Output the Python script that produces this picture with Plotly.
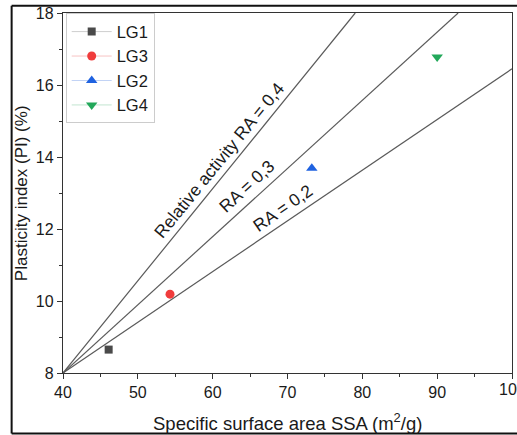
import plotly.graph_objects as go

# Data
series_names = ["LG1", "LG3", "LG2", "LG4"]
ssa_values = [46.1, 54.3, 73.25, 90.0]
pi_values = [8.65, 10.19, 13.69, 16.78]
symbols = ["square", "circle", "triangle-up", "triangle-down"]
marker_sizes = [8, 9, 10, 10]
colors = ["#4a4a4a", "#f03c3c", "#1f62e0", "#22a85a"]
legend_line_colors = ["#cfcfcf", "#f7c4c4", "#c2d3f5", "#c2e6d0"]

ra_labels = ["Relative activity RA = 0,4", "RA = 0,3", "RA = 0,2"]
ra_start_x = [40, 40, 40]
ra_start_y = [8, 8, 8]
ra_end_x = [79.05, 92.8, 100]
ra_end_y = [18, 18, 16.45]
ra_label_x = [61.3, 64.6, 69.4]
ra_label_y = [13.83, 13.19, 12.58]
ra_label_angle = [-50.8, -42.5, -35]
ra_label_xshift = [-3, 0, 0]
ra_label_yshift = [3, 0, 0]

x_ticks = [40, 50, 60, 70, 80, 90, 100]
y_ticks = [8, 10, 12, 14, 16, 18]

x_title = "Specific surface area SSA (m<sup>2</sup>/g)"
y_title = "Plasticity index (PI) (%)"

fig = go.Figure()

for i in range(3):
    fig.add_trace(go.Scatter(
        x=[ra_start_x[i], ra_end_x[i]], y=[ra_start_y[i], ra_end_y[i]],
        mode="lines", line=dict(color="#5a5a5a", width=1.2),
        showlegend=False, hoverinfo="skip"))

for i, name in enumerate(series_names):
    fig.add_trace(go.Scatter(
        x=[ssa_values[i]], y=[pi_values[i]], name=name,
        mode="lines+markers",
        line=dict(color=legend_line_colors[i], width=1),
        marker=dict(symbol=symbols[i], color=colors[i], size=marker_sizes[i],
                    line=dict(width=0))))

for i in range(3):
    fig.add_annotation(x=ra_label_x[i], y=ra_label_y[i], text=ra_labels[i],
                       textangle=ra_label_angle[i], showarrow=False,
                       xanchor="center", yanchor="middle",
                       xshift=ra_label_xshift[i], yshift=ra_label_yshift[i],
                       font=dict(size=17.5, color="#1a1a1a"))

# Last x tick label, cut by the page edge as in the reference
fig.add_annotation(x=x_ticks[-1], xref="x", y=0, yref="paper", yanchor="top",
                   xanchor="center", yshift=-6, text=str(x_ticks[-1]), showarrow=False,
                   font=dict(size=16, color="#1a1a1a"))


def px_to_paper_x(px):
    return (px - 63.3) / 448.4


def px_to_paper_y(py):
    return (372.7 - py) / 359.4


# Axis titles
fig.add_annotation(x=0.5, xref="paper", y=px_to_paper_y(422), yref="paper",
                   xanchor="center", yanchor="middle",
                   text=x_title, showarrow=False, font=dict(size=18.5, color="#1a1a1a"))
fig.add_annotation(x=px_to_paper_x(21.5), xref="paper", y=0.5, yref="paper",
                   xanchor="center", yanchor="middle",
                   text=y_title, textangle=-90, showarrow=False,
                   font=dict(size=17, color="#1a1a1a"))

font_family = "Liberation Sans, Arial, sans-serif"

fig.update_layout(
    width=517, height=435,
    margin=dict(l=63, r=5, t=13, b=62),
    paper_bgcolor="white", plot_bgcolor="white",
    font=dict(family=font_family, color="#1a1a1a", size=14),
    legend=dict(x=0.006, y=0.999, xanchor="left", yanchor="top",
                bgcolor="white", bordercolor="#cccccc", borderwidth=1,
                font=dict(size=16.5), tracegroupgap=0, itemwidth=40),
    xaxis=dict(range=[40, 100], tickvals=x_ticks,
               ticktext=[str(v) for v in x_ticks[:-1]] + [""],
               ticks="outside", ticklen=5, tickwidth=1, tickcolor="#333",
               showline=True, linecolor="#333", linewidth=1.3, mirror=True,
               showgrid=False, zeroline=False, automargin=False,
               minor=dict(ticks="outside", ticklen=3, dtick=5, tickcolor="#333", showgrid=False),
               tickfont=dict(size=16)),
    yaxis=dict(range=[8, 18], tickvals=y_ticks, ticktext=[str(v) for v in y_ticks],
               ticks="outside", ticklen=5, tickwidth=1, tickcolor="#333",
               showline=True, linecolor="#333", linewidth=1.3, mirror=True,
               showgrid=False, zeroline=False, automargin=False,
               minor=dict(ticks="outside", ticklen=3, dtick=1, tickcolor="#333", showgrid=False),
               tickfont=dict(size=16)),
)

# Outer image frame (top, left, bottom)
frame = dict(color="#111", width=2)
fig.add_shape(type="line", xref="paper", yref="paper",
              x0=px_to_paper_x(12), x1=px_to_paper_x(520), y0=px_to_paper_y(6), y1=px_to_paper_y(6), line=frame)
fig.add_shape(type="line", xref="paper", yref="paper",
              x0=px_to_paper_x(12), x1=px_to_paper_x(12), y0=px_to_paper_y(6), y1=px_to_paper_y(433), line=frame)
fig.add_shape(type="line", xref="paper", yref="paper",
              x0=px_to_paper_x(12), x1=px_to_paper_x(520), y0=px_to_paper_y(433), y1=px_to_paper_y(433), line=frame)

fig.write_html("out.html")
